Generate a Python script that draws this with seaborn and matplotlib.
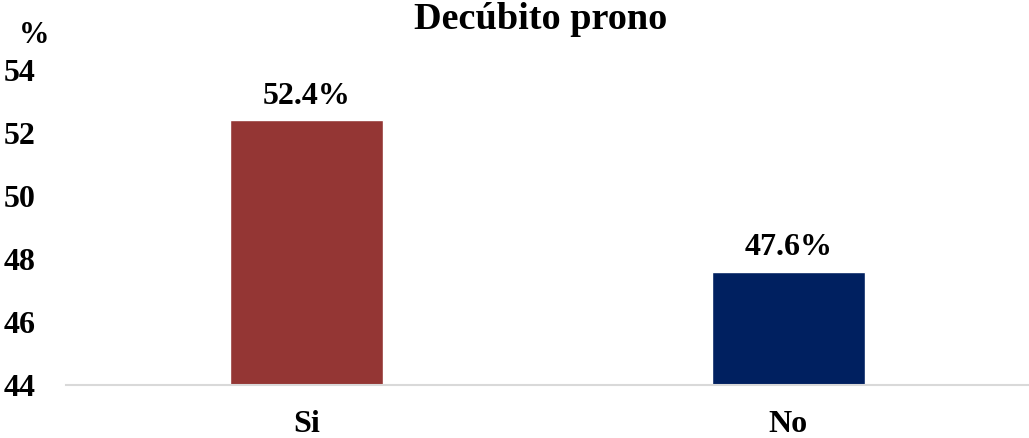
import matplotlib
matplotlib.use("Agg")
import matplotlib.pyplot as plt
import seaborn as sns
import pandas as pd

categories = ["Si", "No"]
values = [52.4, 47.6]
colors = ["#943634", "#002060"]
yticks = [44, 46, 48, 50, 52, 54]
title = "Decúbito prono"

sns.set_theme(style="white")
plt.rcParams["font.family"] = ["Liberation Serif", "DejaVu Serif"]
plt.rcParams["font.weight"] = "bold"
plt.rcParams["text.color"] = "black"
plt.rcParams["xtick.color"] = "black"
plt.rcParams["ytick.color"] = "black"

df = pd.DataFrame({"cat": categories, "val": values})

fig = plt.figure(figsize=(10.29, 4.38), dpi=100)
ax = fig.add_axes([0.0641, 0.121, 0.9359, 0.719])

sns.barplot(data=df, x="cat", y="val", hue="cat", palette=colors,
            width=0.318, legend=False, ax=ax, saturation=1)

ax.set_ylim(44, 54)
ax.set_xlim(-0.5, 1.5)
ax.set_yticks(yticks)
ax.set_yticklabels([str(t) for t in yticks], fontsize=23, fontweight="bold", color="black")
ax.set_xticks(range(len(categories)))
ax.set_xticklabels(categories, fontsize=23, fontweight="bold", color="black")
ax.tick_params(axis="y", length=0, pad=22)
ax.tick_params(axis="x", length=0, pad=18)
ax.set_xlabel("")
ax.set_ylabel("")

for s in ["top", "right", "left"]:
    ax.spines[s].set_visible(False)
ax.spines["bottom"].set_color("#d9d9d9")
ax.spines["bottom"].set_linewidth(1.5)

for i, v in enumerate(values):
    ax.annotate(f"{v:.1f}%", xy=(i, v), xytext=(0, 7), textcoords="offset points",
                ha="center", va="bottom", fontsize=23, fontweight="bold", color="black")

fig.text(0.525, 0.955, title, ha="center", va="center", fontsize=27.5, fontweight="bold",
         color="black")
fig.text(0.033, 0.918, "%", ha="center", va="center", fontsize=22, fontweight="bold",
         color="black")

fig.savefig("out.png", dpi=100, facecolor="white")
